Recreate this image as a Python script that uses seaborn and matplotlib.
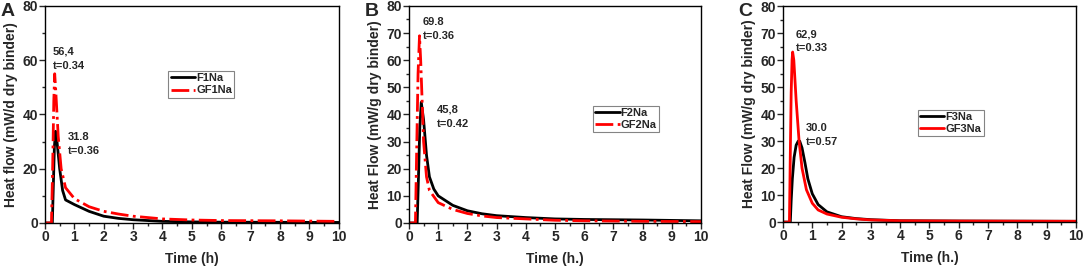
import pandas as pd
import matplotlib
matplotlib.use('Agg')
import matplotlib.pyplot as plt
from matplotlib.ticker import MultipleLocator
import seaborn as sns

# Values (time in h, heat flow in mW/g dry binder)
t_f1 = [0, 0.25, 0.28, 0.32, 0.36, 0.40, 0.50, 0.60, 0.70, 1.0, 1.5, 2.0, 2.5, 3.0, 4.0, 5.0, 6.0, 8.0, 10.0]
hf_f1 = [0, 0, 12, 28, 33.8, 31, 20, 12, 8.5, 6.8, 4.3, 2.5, 1.7, 1.2, 0.6, 0.4, 0.3, 0.25, 0.2]
t_gf1 = [0, 0.22, 0.26, 0.30, 0.33, 0.36, 0.45, 0.55, 0.70, 1.0, 1.5, 2.0, 2.5, 3.0, 4.0, 5.0, 6.0, 8.0, 10.0]
hf_gf1 = [0, 0, 20, 45, 55, 50, 32, 20, 13, 9, 6, 4.3, 3.3, 2.5, 1.5, 1.1, 0.9, 0.8, 0.6]

t_f2 = [0, 0.28, 0.32, 0.37, 0.42, 0.50, 0.60, 0.70, 0.85, 1.0, 1.5, 2.0, 2.5, 3.0, 4.0, 5.0, 6.0, 8.0, 10.0]
hf_f2 = [0, 0, 15, 35, 44.5, 38, 25, 17, 12.5, 10, 6.5, 4.5, 3.4, 2.7, 2.0, 1.5, 1.3, 1.1, 0.8]
t_gf2 = [0, 0.22, 0.26, 0.31, 0.36, 0.40, 0.50, 0.60, 0.70, 1.0, 1.5, 2.0, 2.5, 3.0, 4.0, 5.0, 6.0, 8.0, 10.0]
hf_gf2 = [0, 0, 25, 55, 69, 60, 30, 17, 12, 7.5, 5, 3.5, 2.6, 2.0, 1.5, 1.0, 0.8, 0.6, 0.5]

t_f3 = [0, 0.25, 0.28, 0.32, 0.38, 0.45, 0.52, 0.57, 0.65, 0.75, 0.85, 1.0, 1.2, 1.5, 2.0, 2.5, 3.0, 4.0, 6.0, 10.0]
hf_f3 = [0, 0, 8, 16, 24, 28.5, 30, 30, 27.5, 22, 16, 10.5, 6.5, 3.8, 2.0, 1.3, 0.9, 0.5, 0.4, 0.3]
t_gf3 = [0, 0.22, 0.25, 0.28, 0.31, 0.33, 0.37, 0.45, 0.55, 0.65, 0.80, 1.0, 1.2, 1.5, 2.0, 2.5, 3.0, 4.0, 6.0, 10.0]
hf_gf3 = [0, 0, 25, 48, 60, 63, 60, 45, 30, 20, 12, 7, 4.5, 3.0, 1.8, 1.2, 0.8, 0.5, 0.4, 0.3]

panels = [
    dict(letter='A', ylabel='Heat flow (mW/d dry binder)', xlabel='Time (h)', ymaj=20,
         series=[('F1Na', t_f1, hf_f1, 'black', '-'), ('GF1Na', t_gf1, hf_gf1, 'red', '-.')],
         notes=[(0.27, 65, '56,4\nt=0.34'), (0.78, 33.5, '31.8\nt=0.36')],
         legend=(0.42, 0.70), pos=[0.0415, 0.1617, 0.271, 0.816]),
    dict(letter='B', ylabel='Heat Flow (mW/g dry binder)', xlabel='Time (h.)', ymaj=10,
         series=[('F2Na', t_f2, hf_f2, 'black', '-'), ('GF2Na', t_gf2, hf_gf2, 'red', '-.')],
         notes=[(0.48, 76, '69.8\nt=0.36'), (0.96, 43.5, '45,8\nt=0.42')],
         legend=(0.63, 0.54), pos=[0.3773, 0.1617, 0.2694, 0.816]),
    dict(letter='C', ylabel='Heat Flow (mW/g dry binder)', xlabel='Time (h.)', ymaj=10,
         series=[('F3Na', t_f3, hf_f3, 'black', '-'), ('GF3Na', t_gf3, hf_gf3, 'red', '-')],
         notes=[(0.44, 71.5, '62,9\nt=0.33'), (0.78, 36.7, '30.0\nt=0.57')],
         legend=(0.46, 0.52), pos=[0.7223, 0.165, 0.2703, 0.812]),
]

sns.set_style('ticks')
plt.rcParams['font.family'] = ['Liberation Sans', 'DejaVu Sans']
plt.rcParams['font.weight'] = 'bold'

fig = plt.figure(figsize=(10.84, 2.66), dpi=100)

for p in panels:
    ax = fig.add_axes(p['pos'])
    for name, t, hf, color, ls in p['series']:
        df = pd.DataFrame({'Time': t, 'Heat flow': hf})
        sns.lineplot(x='Time', y='Heat flow', data=df, ax=ax, color=color,
                     linestyle=ls, linewidth=2, label=name)
    ax.set_xlim(0, 10)
    ax.set_ylim(0, 80)
    ax.xaxis.set_major_locator(MultipleLocator(1))
    ax.xaxis.set_minor_locator(MultipleLocator(0.5))
    ax.yaxis.set_major_locator(MultipleLocator(p['ymaj']))
    ax.yaxis.set_minor_locator(MultipleLocator(p['ymaj'] / 2))
    ax.tick_params(which='major', length=4, width=1, labelsize=10, pad=1)
    ax.tick_params(which='minor', length=2, width=1)
    for lab in ax.get_xticklabels() + ax.get_yticklabels():
        lab.set_fontweight('bold')
    for s in ax.spines.values():
        s.set_visible(True)
        s.set_linewidth(1)
        s.set_color('black')
    ax.set_xlabel(p['xlabel'], fontsize=10, fontweight='bold', labelpad=6)
    ax.set_ylabel(p['ylabel'], fontsize=10, fontweight='bold', labelpad=3)
    for x, y, txt in p['notes']:
        ax.text(x, y, txt, fontsize=8, fontweight='bold', va='top', ha='left', linespacing=1.5)
    leg = ax.legend(loc='upper left', bbox_to_anchor=p['legend'], fontsize=8,
                    prop={'weight': 'bold', 'size': 8}, frameon=True, fancybox=False,
                    handlelength=2.2, borderpad=0.2, labelspacing=0.2, handletextpad=0.1,
                    borderaxespad=0)
    leg.get_frame().set_edgecolor('0.4')
    leg.get_frame().set_linewidth(0.8)
    fig.text(p['pos'][0] - 0.041, 0.99, p['letter'], fontsize=14, fontweight='bold',
             va='top', ha='left')

fig.savefig('out.png', dpi=100)
